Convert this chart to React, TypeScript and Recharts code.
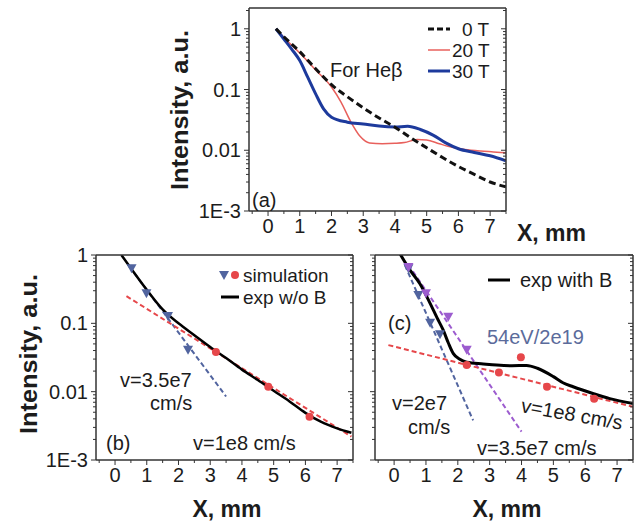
import React from "react";
import { ComposedChart, Line, Scatter, XAxis, YAxis } from "recharts";

type Pt = [number, number];

// (a) He-beta profiles, [x mm, intensity]
const heb0T: Pt[] = [
  [0.25, 1], [0.5, 0.74], [1, 0.42], [1.5, 0.22], [2, 0.12], [2.5, 0.076], [3, 0.05],
  [3.5, 0.034], [4, 0.024], [4.5, 0.016], [5, 0.011], [5.5, 0.0076], [6, 0.0054],
  [6.5, 0.004], [7, 0.003], [7.5, 0.0025],
];
const heb20T: Pt[] = [
  [0.25, 1], [0.5, 0.72], [1, 0.4], [1.5, 0.21], [2, 0.11], [2.3, 0.062], [2.6, 0.03],
  [2.9, 0.017], [3.2, 0.0132], [3.6, 0.0128], [4, 0.013], [4.3, 0.0134], [4.7, 0.015],
  [5, 0.0148], [5.4, 0.0128], [5.8, 0.0112], [6.2, 0.0103], [6.7, 0.0097], [7.1, 0.0094],
  [7.5, 0.0091],
];
const heb30T: Pt[] = [
  [0.25, 1], [0.5, 0.68], [0.75, 0.46], [1, 0.3], [1.25, 0.16], [1.5, 0.085], [1.75, 0.048],
  [2, 0.035], [2.5, 0.029], [3, 0.027], [3.5, 0.025], [4, 0.0242], [4.4, 0.0248],
  [4.8, 0.022], [5.2, 0.0178], [5.6, 0.0132], [6, 0.0106], [6.5, 0.0092], [7, 0.0081],
  [7.5, 0.0067],
];

// (b) without field
const expNoB: Pt[] = [
  [0.2, 1], [0.5, 0.64], [1, 0.31], [1.5, 0.16], [2, 0.1], [2.5, 0.067], [3, 0.045],
  [3.5, 0.031], [4, 0.021], [4.5, 0.0148], [5, 0.0103], [5.5, 0.0072], [6, 0.0049],
  [6.5, 0.0036], [7, 0.0029], [7.45, 0.0025],
];
const simBlueB: Pt[] = [[0.52, 0.64], [0.99, 0.275], [1.67, 0.128], [2.3, 0.041]];
const simRedB: Pt[] = [[3.18, 0.038], [4.83, 0.0118], [6.13, 0.0043]];
const fit35e7B: Pt[] = [[0.45, 0.68], [3.5, 0.0085]];
const fit1e8B: Pt[] = [[0.36, 0.25], [7.45, 0.0022]];

// (c) with field
const expWithB: Pt[] = [
  [0.18, 1.05], [0.5, 0.6], [0.81, 0.38], [1.13, 0.196], [1.35, 0.12], [1.54, 0.08],
  [1.7, 0.052], [1.86, 0.036], [2.05, 0.03], [2.28, 0.027], [2.8, 0.0255], [3.22, 0.0245],
  [3.7, 0.024], [4.16, 0.0242], [4.5, 0.022], [5, 0.0166], [5.3, 0.0135], [5.62, 0.0118],
  [6.24, 0.0094], [6.77, 0.0079], [7.5, 0.0067],
];
const simBlueC: Pt[] = [[0.45, 0.64], [0.76, 0.26], [1.13, 0.102], [1.44, 0.069]];
const simPurpleC: Pt[] = [[0.45, 0.67], [1.0, 0.275], [1.7, 0.125], [2.28, 0.041]];
const simRedC: Pt[] = [[2.28, 0.0245], [3.29, 0.019], [3.98, 0.032], [4.8, 0.0118], [6.28, 0.0079]];
const fit2e7C: Pt[] = [[0.34, 0.71], [2.48, 0.0038]];
const fit35e7C: Pt[] = [[0.45, 0.72], [4.0, 0.0026]];
const fit1e8C: Pt[] = [[-0.18, 0.048], [7.5, 0.006]];

const xTicks = [-0.5, 0, 0.5, 1, 1.5, 2, 2.5, 3, 3.5, 4, 4.5, 5, 5.5, 6, 6.5, 7, 7.5];
const yMajor = [0.001, 0.01, 0.1, 1];
const yLabels = ["1E-3", "0.01", "0.1", "1"];

const FONT = "'Liberation Sans', Arial, sans-serif";
const INK = "#1c1c1c";
const RED = "#e6474a";
const SLATE = "#51649f";
const PURPLE = "#9c5ccf";

const logTicks = (top: number) => {
  const t: number[] = [];
  for (const d of yMajor) {
    for (let k = 1; k <= 9; k++) {
      const v = +(d * k).toPrecision(3);
      if (v <= top) t.push(v);
    }
  }
  return t;
};

const toObj = (pts: Pt[]) => pts.map(([x, y]) => ({ x, y }));

const isDecade = (v: number) => {
  const l = Math.log10(v);
  return Math.abs(l - Math.round(l)) < 1e-6;
};

const makeTick = (side: "bottom" | "top" | "left" | "right", labels: boolean) => (p: any) => {
  const { x, y, payload } = p;
  const v = payload.value as number;
  const horiz = side === "bottom" || side === "top";
  const major = horiz ? Number.isInteger(v) : isDecade(v);
  const len = major ? 5 : 3;
  let line;
  if (horiz) line = <line x1={x} x2={x} y1={y} y2={y + len} stroke="#333" strokeWidth={1} />;
  else line = <line x1={x} x2={x - len} y1={y} y2={y} stroke="#333" strokeWidth={1} />;
  let label = null;
  if (labels && major && side === "bottom") {
    label = (
      <text x={x} y={y + 15} textAnchor="middle" dominantBaseline="central" fontSize={20} fontFamily={FONT} fill={INK}>
        {v}
      </text>
    );
  }
  if (labels && major && side === "left") {
    const i = yMajor.findIndex((m) => Math.abs(m - v) < 1e-9);
    label = (
      <text x={x - 8} y={y} textAnchor="end" dominantBaseline="central" fontSize={20} fontFamily={FONT} fill={INK}>
        {yLabels[i]}
      </text>
    );
  }
  return (
    <g>
      {line}
      {label}
    </g>
  );
};

const triDown = (color: string) => (p: any) => {
  const { cx, cy } = p;
  return <polygon points={`${cx - 5},${cy - 4} ${cx + 5},${cy - 4} ${cx},${cy + 5}`} fill={color} />;
};
const dot = (color: string) => (p: any) => <circle cx={p.cx} cy={p.cy} r={4} fill={color} />;

interface PanelProps {
  box: { left: number; top: number; right: number; bottom: number };
  yTop: number;
  yLabelsOn: boolean;
  children: React.ReactNode;
}

// box = plot area edges in page pixels; each axis takes 1px of the margin
function Panel({ box, yTop, yLabelsOn, children }: PanelProps) {
  const yt = logTicks(yTop);
  const axisLine = { stroke: "#333", strokeWidth: 1.5 };
  const margin = { left: box.left - 1, top: box.top - 1, right: 638 - box.right - 1, bottom: 525 - box.bottom - 1 };
  return (
    <div style={{ position: "absolute", left: 0, top: 0 }}>
      <ComposedChart width={638} height={525} margin={margin}>
        <XAxis xAxisId={0} dataKey="x" type="number" domain={[-0.6, 7.5]} allowDataOverflow ticks={xTicks}
          interval={0} height={1} tickSize={0} tickMargin={0} axisLine={axisLine} tickLine={false}
          tick={makeTick("bottom", true)} />
        <XAxis xAxisId="t" orientation="top" type="number" domain={[-0.6, 7.5]} allowDataOverflow ticks={xTicks}
          interval={0} height={1} tickSize={0} tickMargin={0} axisLine={axisLine} tickLine={false}
          tick={makeTick("top", false)} />
        <YAxis yAxisId={0} dataKey="y" type="number" scale="log" domain={[0.001, yTop]} allowDataOverflow ticks={yt}
          interval={0} width={1} tickSize={0} tickMargin={0} axisLine={axisLine} tickLine={false}
          tick={makeTick("left", yLabelsOn)} />
        <YAxis yAxisId="r" orientation="right" type="number" scale="log" domain={[0.001, yTop]} allowDataOverflow
          ticks={yt} interval={0} width={1} tickSize={0} tickMargin={0} axisLine={axisLine} tickLine={false}
          tick={makeTick("right", false)} />
        {children}
      </ComposedChart>
    </div>
  );
}

const fitLine = (pts: Pt[], color: string) => (
  <Line data={toObj(pts)} dataKey="y" type="linear" stroke={color} strokeWidth={2} strokeDasharray="5 3"
    dot={false} isAnimationActive={false} />
);

const txt = { fontFamily: FONT, fill: INK, fontSize: 20 } as const;
const legendTxt = { fontFamily: FONT, fill: INK, fontSize: 19 } as const;
const bold = { fontFamily: FONT, fill: INK, fontWeight: 700 } as const;

export default function App() {
  return (
    <div style={{ position: "absolute", left: 0, top: 0, width: 638, height: 525, background: "#fff" }}>
      <Panel box={{ left: 249, top: 8, right: 506, bottom: 211 }} yTop={2.2} yLabelsOn>
        <Line data={toObj(heb20T)} dataKey="y" type="monotone" stroke="#e8605c" strokeWidth={1.5} dot={false} isAnimationActive={false} />
        <Line data={toObj(heb30T)} dataKey="y" type="monotone" stroke="#1d3a9c" strokeWidth={3} dot={false} isAnimationActive={false} />
        <Line data={toObj(heb0T)} dataKey="y" type="monotone" stroke="#111" strokeWidth={3} strokeDasharray="7 4" dot={false} isAnimationActive={false} />
      </Panel>

      <Panel box={{ left: 96, top: 255, right: 353, bottom: 460 }} yTop={1} yLabelsOn>
        {fitLine(fit35e7B, SLATE)}
        {fitLine(fit1e8B, RED)}
        <Line data={toObj(expNoB)} dataKey="y" type="monotone" stroke="#000" strokeWidth={2.5} dot={false} isAnimationActive={false} />
        <Scatter data={toObj(simBlueB)} dataKey="y" shape={triDown(SLATE)} isAnimationActive={false} />
        <Scatter data={toObj(simRedB)} dataKey="y" shape={dot(RED)} isAnimationActive={false} />
      </Panel>

      <Panel box={{ left: 375, top: 255, right: 633, bottom: 460 }} yTop={1} yLabelsOn={false}>
        {fitLine(fit2e7C, SLATE)}
        {fitLine(fit35e7C, PURPLE)}
        {fitLine(fit1e8C, RED)}
        <Line data={toObj(expWithB)} dataKey="y" type="monotone" stroke="#000" strokeWidth={3} dot={false} isAnimationActive={false} />
        <Scatter data={toObj(simBlueC)} dataKey="y" shape={triDown(SLATE)} isAnimationActive={false} />
        <Scatter data={toObj(simPurpleC)} dataKey="y" shape={triDown(PURPLE)} isAnimationActive={false} />
        <Scatter data={toObj(simRedC)} dataKey="y" shape={dot(RED)} isAnimationActive={false} />
      </Panel>

      <svg width={638} height={525} style={{ position: "absolute", left: 0, top: 0, pointerEvents: "none" }}>
        {/* axis titles */}
        <text transform="translate(180,110) rotate(-90)" textAnchor="middle" dominantBaseline="central" fontSize={23}
          textLength={160} lengthAdjust="spacingAndGlyphs" {...bold}>Intensity, a.u.</text>
        <text transform="translate(29,354) rotate(-90)" textAnchor="middle" dominantBaseline="central" fontSize={23}
          textLength={160} lengthAdjust="spacingAndGlyphs" {...bold}>Intensity, a.u.</text>
        <text x={517} y={233} dominantBaseline="central" fontSize={23} {...bold}>X, mm</text>
        <text x={227} y={509} textAnchor="middle" dominantBaseline="central" fontSize={23} {...bold}>X, mm</text>
        <text x={507} y={509} textAnchor="middle" dominantBaseline="central" fontSize={23} {...bold}>X, mm</text>

        {/* panel (a) */}
        <line x1={428} x2={450} y1={29} y2={29} stroke="#111" strokeWidth={3} strokeDasharray="6 3" />
        <text x={462} y={29} dominantBaseline="central" {...legendTxt}>0 T</text>
        <line x1={428} x2={450} y1={50} y2={50} stroke="#e8605c" strokeWidth={1.5} />
        <text x={452} y={50} dominantBaseline="central" {...legendTxt}>20 T</text>
        <line x1={428} x2={450} y1={71} y2={71} stroke="#1d3a9c" strokeWidth={3} />
        <text x={452} y={71} dominantBaseline="central" {...legendTxt}>30 T</text>
        <text x={330} y={70} dominantBaseline="central" {...txt}>For Heβ</text>
        <text x={252} y={200} dominantBaseline="central" {...txt}>(a)</text>

        {/* panel (b) */}
        <polygon points="219,271 229,271 224,280" fill={SLATE} />
        <circle cx={235} cy={275} r={4} fill={RED} />
        <text x={243} y={275} dominantBaseline="central" {...legendTxt}>simulation</text>
        <line x1={221} x2={239} y1={297} y2={297} stroke="#000" strokeWidth={3} />
        <text x={243} y={297} dominantBaseline="central" {...legendTxt}>exp w/o B</text>
        <text x={120} y={380} dominantBaseline="central" {...txt}>v=3.5e7</text>
        <text x={150} y={403} dominantBaseline="central" {...txt}>cm/s</text>
        <text x={106} y={443} dominantBaseline="central" {...txt}>(b)</text>
        <text x={193} y={443} dominantBaseline="central" {...txt}>v=1e8 cm/s</text>

        {/* panel (c) */}
        <line x1={488} x2={510} y1={280} y2={280} stroke="#000" strokeWidth={3} />
        <text x={520} y={280} dominantBaseline="central" {...txt}>exp with B</text>
        <text x={388} y={323} dominantBaseline="central" {...txt}>(c)</text>
        <text x={487} y={337} dominantBaseline="central" {...txt} fill="#5b6b9b">54eV/2e19</text>
        <text x={392} y={403} dominantBaseline="central" {...txt}>v=2e7</text>
        <text x={408} y={427} dominantBaseline="central" {...txt}>cm/s</text>
        <text transform="translate(572,414) rotate(10)" textAnchor="middle" dominantBaseline="central" {...txt}>v=1e8 cm/s</text>
        <text x={477} y={448} dominantBaseline="central" {...txt}>v=3.5e7 cm/s</text>
      </svg>
    </div>
  );
}
